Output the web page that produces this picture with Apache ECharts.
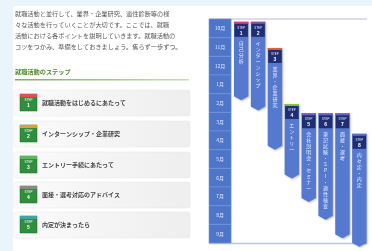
<!DOCTYPE html>
<html><head><meta charset="utf-8">
<script src="https://cdn.jsdelivr.net/npm/echarts@6/dist/echarts.min.js"></script>
<style>html,body{margin:0;padding:0;background:#eaf5fb}#c{width:372px;height:251px}</style>
</head><body><div id="c"></div>
<script>
const months = ['10月','11月','12月','1月','2月','3月','4月','5月','6月','7月','8月','9月'];
const stepNames = ['自己分析','インターンシップ','業界・企業研究','エントリー','会社説明会・セミナー','筆記試験・SPI・適性検査','面接・選考','内々定・内定'];
const stepStart = [0.15,0.15,1.55,4.55,5.05,5.05,5.05,6.15];
const stepEnd = [4.35,4.9,7.0,8.55,9.8,10.75,11.75,12.2];
const introLines = ['就職活動と並行して、業界・企業研究、適性診断等の様','々な活動を行っていくことが大切です。ここでは、就職','活動における各ポイントを説明していきます。就職活動の','コツをつかみ、準備をしておきましょう。焦らず一歩ずつ。'];
const heading = '就職活動のステップ';
const menuItems = ['就職活動をはじめるにあたって','インターンシップ・企業研究','エントリー手続にあたって','面接・選考対応のアドバイス','内定が決まったら'];

const capColors = ['#d8456a','#8a4fb0','#e0603a','#8cc63f','#7a5cc0','#7a5cc0','#7a5cc0','#4f74c8'];
const menuCaps = ['#d9534f','#e0a030','#5cb85c','#888888','#3aa7a0'];
const font = '"Noto Sans CJK JP", sans-serif';

const graphic = [];
graphic.push({type:'rect',shape:{x:13,y:6,width:359,height:245},style:{fill:'#ffffff'},z:-10});
introLines.forEach((t,i)=>{
  graphic.push({type:'text',x:15,y:11+i*11,style:{text:t,font:'6.2px '+font,fill:'#5a5a5a'}});
});
graphic.push({type:'text',x:15,y:69,style:{text:heading,font:'bold 6.2px '+font,fill:'#4f8a2b'}});
graphic.push({type:'rect',shape:{x:15,y:79,width:174,height:1.5},style:{fill:new echarts.graphic.LinearGradient(0,0,1,0,[{offset:0,color:'#7fb24a'},{offset:1,color:'#c9dfb0'}])}});
const rowY = [90,121,152,182,212];
menuItems.forEach((t,i)=>{
  const y = rowY[i];
  graphic.push({type:'rect',shape:{x:14,y:y,width:176,height:26,r:2},style:{fill:new echarts.graphic.LinearGradient(0,0,1,0,[{offset:0,color:'#fbfbfb'},{offset:1,color:'#eeeeee'}]),stroke:'#e6e6e6',lineWidth:0.5}});
  graphic.push({type:'rect',shape:{x:20,y:y+4,width:17,height:17},style:{fill:'#2f8f3c',stroke:'#1f6b2a',lineWidth:0.5}});
  graphic.push({type:'rect',shape:{x:20,y:y+4,width:17,height:3},style:{fill:menuCaps[i]}});
  graphic.push({type:'text',x:28.5,y:y+10,style:{text:'STEP',font:'3px sans-serif',fill:'#fff',align:'center',verticalAlign:'middle'}});
  graphic.push({type:'text',x:28.5,y:y+16,style:{text:String(i+1),font:'bold 5px sans-serif',fill:'#fff',align:'center',verticalAlign:'middle'}});
  graphic.push({type:'text',x:42,y:y+13,style:{text:t,font:'bold 6px '+font,fill:'#444',verticalAlign:'middle'}});
});
graphic.push({type:'line',shape:{x1:209,y1:19,x2:367,y2:19},style:{stroke:'#d5cfe0',lineWidth:1.5}});
graphic.push({type:'line',shape:{x1:209,y1:243.5,x2:367,y2:243.5},style:{stroke:'#b8c6e0',lineWidth:1.5}});

const chart = echarts.init(document.getElementById('c'));
chart.setOption({
  backgroundColor:'#eaf5fb',
  animation:false,
  graphic:graphic,
  grid:{left:209,right:5,top:19,bottom:8},
  xAxis:{type:'value',min:0,max:9.5,show:false},
  yAxis:{type:'value',min:0,max:12,inverse:true,show:false},
  series:[
    {
      type:'custom',
      data:months.map((m,i)=>[i,m]),
      renderItem:function(params,api){
        const i = api.value(0);
        const p0 = api.coord([0,i]);
        const p1 = api.coord([1.33,i+1]);
        return {type:'group',children:[
          {type:'rect',shape:{x:p0[0],y:p0[1],width:p1[0]-p0[0],height:p1[1]-p0[1]},style:{fill:'#4f75c9',stroke:'#7393da',lineWidth:0.6}},
          {type:'text',x:(p0[0]+p1[0])/2,y:(p0[1]+p1[1])/2,style:{text:months[i],font:'5px '+font,fill:'#e2e9ff',align:'center',verticalAlign:'middle'}}
        ]};
      }
    },
    {
      type:'custom',
      clip:false,
      data:stepNames.map((n,i)=>[i,stepStart[i],stepEnd[i]]),
      renderItem:function(params,api){
        const i = api.value(0);
        const s = api.value(1), e = api.value(2);
        const lx = 1.5 + i*1.015;
        const a = api.coord([lx,s]);
        const b = api.coord([lx+0.87,e]);
        const L=a[0], R=b[0], T=a[1], B=b[1], M=(L+R)/2, ah=4;
        const chars = stepNames[i].split('').join('\n');
        return {type:'group',children:[
          {type:'polygon',shape:{points:[[L,T],[R,T],[R,B-ah],[M,B],[L,B-ah]]},style:{fill:'#5579cf',shadowBlur:2,shadowColor:'rgba(0,0,0,0.25)',shadowOffsetX:1,shadowOffsetY:1}},
          {type:'rect',shape:{x:L,y:T,width:R-L,height:2},style:{fill:capColors[i]}},
          {type:'rect',shape:{x:L+0.5,y:T+2,width:R-L-1,height:13},style:{fill:'#1f2e72'}},
          {type:'text',x:M,y:T+6,style:{text:'STEP',font:'3px sans-serif',fill:'#dde4ff',align:'center',verticalAlign:'middle'}},
          {type:'text',x:M,y:T+11.5,style:{text:String(i+1),font:'bold 5px sans-serif',fill:'#ffffff',align:'center',verticalAlign:'middle'}},
          {type:'text',x:M,y:T+18,style:{text:chars,font:'5px '+font,lineHeight:6,fill:'#e8eeff',align:'center',verticalAlign:'top'}}
        ]};
      }
    }
  ]
});
</script></body></html>
